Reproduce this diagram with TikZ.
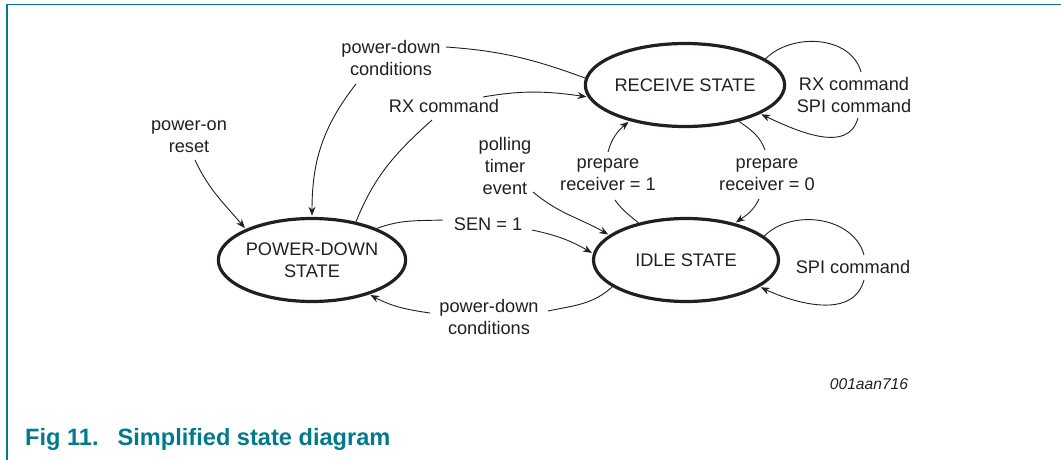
\documentclass[tikz,border=0pt]{standalone}
\usepackage{fontspec}
\setmainfont{Liberation Sans}
\usetikzlibrary{arrows.meta,shapes.geometric}
\definecolor{nxpteal}{RGB}{0,122,140}
\definecolor{ink}{RGB}{35,31,32}
\newcommand\lblfont{\fontsize{18.2}{22.3}\selectfont}
\newcommand\capfont{\fontsize{23.6}{28}\selectfont\bfseries}
\newcommand\idfont{\fontsize{15.6}{18}\selectfont\itshape}
\begin{document}
\begin{tikzpicture}[x=1pt,y=1pt,
  state/.style={ellipse,draw=ink,line width=3.2pt,minimum width=185pt,minimum height=83pt,inner sep=0pt,align=center,text=ink,font=\lblfont},
  lbl/.style={align=center,text=ink,inner sep=0pt,font=\lblfont},
  conn/.style={draw=ink,line width=0.9pt},
  arr/.style={conn,-{Stealth[length=9pt,width=7pt]},shorten >=1.2pt},
]
\path[use as bounding box] (0,0) rectangle (1061,-460);
\draw[nxpteal,line width=1.5pt] (7,-460) -- (7,-4.5) -- (1061,-4.5);

% states
\node[state] (recv) at (685,-85) {RECEIVE STATE};
\node[state] (idle) at (686,-260) {IDLE STATE};
\node[state] (pd) at (312,-260) {POWER-DOWN\\STATE};

% labels
\node[lbl] (lpd1) at (391,-58) {power-down\\conditions};
\node[lbl] (lrx) at (444,-106) {RX command};
\node[lbl] (lpor) at (189,-137) {power-on\\reset};
\node[lbl] (lpoll) at (505,-166) {polling\\timer\\event};
\node[lbl] (lsen) at (488,-224) {SEN = 1};
\node[lbl] (lpd2) at (489,-317) {power-down\\conditions};
\node[lbl] (lpr1) at (608,-175) {prepare\\receiver = 1};
\node[lbl] (lpr0) at (767,-175) {prepare\\receiver = 0};
\node[lbl] (lrxspi) at (854,-95) {RX command\\SPI command};
\node[lbl] (lspi) at (853,-267) {SPI command};
\node[text=ink,inner sep=0pt,font=\idfont] (fid) at (869,-384) {001aan716};
\node[text=nxpteal,inner sep=0pt,font=\capfont,anchor=base west] (cap) at (25,-445)
  {Fig 11.\hspace{19pt}Simplified state diagram};

% free ends next to the labels
\coordinate (a1) at (446,-47);
\coordinate (a2) at (356,-84);
\coordinate (b1) at (432,-120);
\coordinate (b2) at (483,-97);
\coordinate (c1) at (195,-160);
\coordinate (d1) at (443,-220);
\coordinate (d2) at (532,-230);
\coordinate (e1) at (533,-192);
\coordinate (f1) at (548,-311);
\coordinate (f2) at (430,-313);
\coordinate (g1) at (615,-200);
\coordinate (g2) at (608,-152);
\coordinate (h1) at (765,-150);
\coordinate (h2) at (759,-199);
\coordinate (i1) at (861,-72);
\coordinate (i2) at (858,-118);
\coordinate (j1) at (864,-255);
\coordinate (j2) at (864,-280);

% receive -> power-down (power-down conditions)
\draw[conn] (recv.176) to[out=160,in=-4] (a1);
\draw[arr] (a2) to[out=232,in=90] (pd.90);
% power-down -> receive (RX command)
\draw[conn] (pd.41) to[out=68,in=222] (b1);
\draw[arr] (b2) to[out=10,in=172] (recv.187);
% power-on reset
\draw[arr] (c1) to[out=-65,in=130] (pd.155);
% SEN = 1
\draw[conn] (pd.26) to[out=20,in=182] (d1);
\draw[arr] (d2) to[out=-12,in=150] (idle.176);
% polling timer event
\draw[arr] (e1) to[out=-40,in=150] (idle.162);
% idle -> power-down
\draw[conn] (idle.200) to[out=222,in=12] (f1);
\draw[arr] (f2) to[out=172,in=-28] (pd.-31);
% prepare receiver = 1
\draw[conn] (idle.142) to[out=140,in=-55] (g1);
\draw[arr] (g2) to[out=75,in=220] (recv.213);
% prepare receiver = 0
\draw[conn] (recv.-34) to[out=-35,in=110] (h1);
\draw[arr] (h2) to[out=245,in=35] (idle.37);
% receive self loop
\draw[conn] (recv.18) to[out=45,in=105] (i1);
\draw[arr] (i2) to[out=255,in=-25] (recv.-21);
% idle self loop
\draw[conn] (idle.17) to[out=45,in=105] (j1);
\draw[arr] (j2) to[out=255,in=-25] (idle.-20);
\end{tikzpicture}
\end{document}
